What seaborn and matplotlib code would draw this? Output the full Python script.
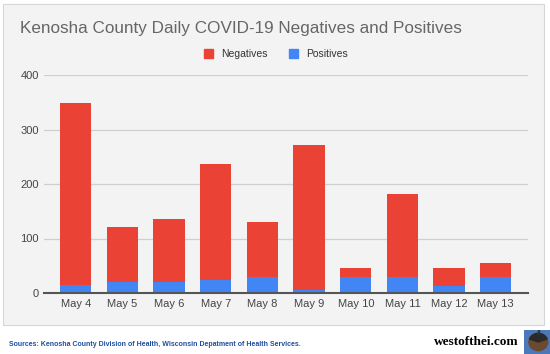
import matplotlib
matplotlib.use("Agg")
import matplotlib.pyplot as plt
import matplotlib.patches as mpatches
import seaborn as sns
import pandas as pd

days = ["May 4", "May 5", "May 6", "May 7", "May 8", "May 9", "May 10", "May 11", "May 12", "May 13"]
positives = [15, 21, 21, 24, 29, 5, 30, 29, 13, 29]
negatives = [333, 101, 114, 213, 102, 267, 16, 153, 32, 26]
y_ticks = [0, 100, 200, 300, 400]

RED = "#ea4335"
BLUE = "#4285f4"
BG = "#f3f3f3"

df = pd.DataFrame({"day": days, "Positives": positives, "Negatives": negatives})

sns.set_theme(style="white")
plt.rcParams["font.family"] = ["Liberation Sans", "DejaVu Sans"]

W, H = 550, 354
fig = plt.figure(figsize=(5.5, 3.54), dpi=100)
fig.patch.set_facecolor("white")

# outer chart box (background axes)
bg_ax = fig.add_axes([0, 0, 1, 1], zorder=-10)
bg_ax.set_xlim(0, W)
bg_ax.set_ylim(H, 0)
bg_ax.axis("off")
bg_ax.add_patch(mpatches.Rectangle((3, 4), 541, 321, facecolor=BG, edgecolor="#d6d6d6", linewidth=0.8))

ax = fig.add_axes([44 / W, 1 - 293 / H, 484 / W, 218 / H], zorder=1)
ax.patch.set_alpha(0)

sns.barplot(data=df, x="day", y="Negatives", bottom=df["Positives"], color=RED,
            width=0.67, saturation=1, ax=ax, zorder=3, linewidth=0)
sns.barplot(data=df, x="day", y="Positives", color=BLUE,
            width=0.67, saturation=1, ax=ax, zorder=3, linewidth=0)

ax.set_xlim(-0.68, 9.69)
ax.set_ylim(0, 400)
ax.set_yticks(y_ticks)
ax.set_yticklabels([str(v) for v in y_ticks])
ax.set_xlabel("")
ax.set_ylabel("")
ax.grid(axis="y", color="#cfcfcf", linewidth=0.9, zorder=0)
ax.grid(axis="x", visible=False)
for s in ["top", "right", "left"]:
    ax.spines[s].set_visible(False)
ax.spines["bottom"].set_color("#555555")
ax.spines["bottom"].set_linewidth(1.5)
ax.spines["bottom"].set_zorder(5)
ax.tick_params(axis="both", length=0, labelsize=8, labelcolor="#444444")
ax.tick_params(axis="x", pad=4.5)
ax.tick_params(axis="y", pad=3.6)

# Title
fig.text(20 / W, 1 - 29 / H, "Kenosha County Daily COVID-19 Negatives and Positives",
         fontsize=12.3, color="#666666", ha="left", va="center")

# Legend
handles = [mpatches.Patch(color=RED, label="Negatives"), mpatches.Patch(color=BLUE, label="Positives")]
fig.legend(handles=handles, loc="center", bbox_to_anchor=(276 / W, 1 - 54 / H), ncol=2,
           frameon=False, fontsize=7.5, handlelength=0.9, handleheight=0.9,
           handletextpad=0.8, columnspacing=2.0, labelcolor="#333333")

# Footer
fig.text(9 / W, 1 - 345 / H,
         "Sources: Kenosha County Division of Health, Wisconsin Depatment of Health Services.",
         fontsize=5.0, color="#1f4f9f", fontweight="bold", ha="left", va="center")

fig.text(519 / W, 1 - 342 / H, "westofthei.com", fontsize=9.5, fontweight="bold",
         family="Liberation Serif", color="black", ha="right", va="center")

# Logo
logo_ax = fig.add_axes([524 / W, 0, 26 / W, 24 / H])
logo_ax.set_xlim(0, 1)
logo_ax.set_ylim(0, 1)
logo_ax.axis("off")
logo_ax.add_patch(mpatches.Rectangle((0, 0), 1, 1, color="#4a78b8"))
logo_ax.add_patch(mpatches.Circle((0.55, 0.5), 0.36, color="#6b4a2e"))
logo_ax.add_patch(mpatches.Wedge((0.55, 0.5), 0.36, 20, 160, color="#2a2a2a"))
logo_ax.add_patch(mpatches.Rectangle((0.52, 0.82), 0.06, 0.18, color="#333333"))

fig.savefig("out.png", dpi=100)
